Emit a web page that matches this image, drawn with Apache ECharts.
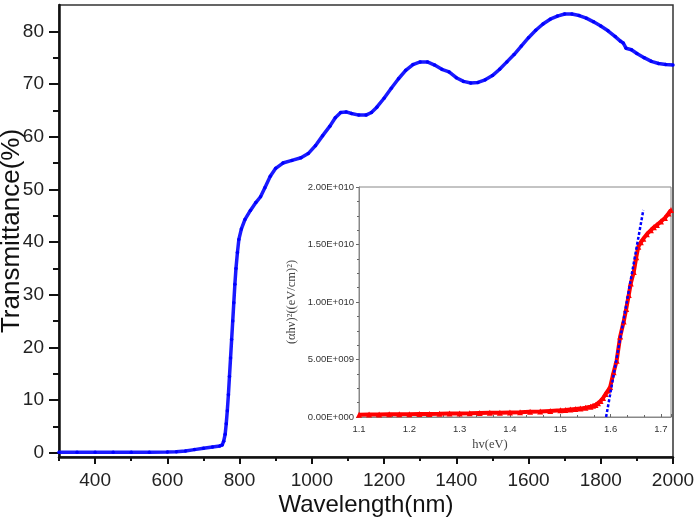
<!DOCTYPE html>
<html>
<head>
<meta charset="utf-8">
<script src="https://cdn.jsdelivr.net/npm/echarts@6/dist/echarts.min.js"></script>
<style>html,body{margin:0;padding:0;background:#fff}#c{width:700px;height:519px}</style>
</head>
<body>
<div id="c"></div>
<script>
// Main spectrum: wavelength (nm) vs transmittance (%)
const wavelength = [300,350,400,450,500,550,600,625,650,675,700,725,745,752,756,760,763,766,769,772,775,778,781,784,787,790,794,798,805,815,830,845,858,870,885,900,920,945,970,990,1010,1030,1050,1065,1080,1095,1110,1130,1150,1165,1180,1200,1220,1240,1260,1280,1300,1320,1340,1360,1380,1400,1420,1440,1460,1480,1500,1520,1540,1560,1580,1600,1620,1640,1660,1680,1700,1720,1740,1760,1780,1800,1820,1840,1855,1862,1870,1885,1900,1920,1940,1960,1980,2000];
const transmittance = [0.1,0.1,0.1,0.1,0.1,0.1,0.15,0.2,0.35,0.6,0.85,1.1,1.3,1.5,2.2,3.5,5.5,8,11,14.5,18,21.5,25,28.5,32,35,38,40.5,42.5,44.3,46,47.5,48.6,50.3,52.5,54,55,55.5,56,56.8,58.3,60.2,62,63.6,64.6,64.7,64.4,64.1,64.1,64.6,65.6,67.3,69.2,71,72.6,73.7,74.2,74.2,73.6,72.8,72.3,71.2,70.5,70.2,70.3,70.8,71.6,72.8,74.2,75.6,77.2,78.8,80.2,81.4,82.3,82.9,83.3,83.3,83,82.5,81.8,81,80.1,79,78.1,77.8,76.8,76.5,75.8,75,74.3,73.9,73.7,73.6];

// Inset (Tauc plot): photon energy (eV) vs (αhν)² in units of 1e10
const energy = [1.10,1.12,1.14,1.16,1.18,1.20,1.22,1.24,1.26,1.28,1.30,1.32,1.34,1.36,1.38,1.40,1.42,1.44,1.46,1.48,1.50,1.51,1.52,1.53,1.54,1.55,1.56,1.565,1.57,1.575,1.58,1.585,1.59,1.595,1.599,1.606,1.612,1.619,1.626,1.631,1.636,1.640,1.646,1.651,1.655,1.660,1.665,1.672,1.680,1.686,1.692,1.700,1.708,1.715,1.72];
const alphaHv2 = [0.020,0.021,0.022,0.023,0.024,0.025,0.026,0.027,0.028,0.030,0.031,0.032,0.034,0.036,0.038,0.040,0.042,0.045,0.048,0.053,0.058,0.061,0.065,0.069,0.073,0.080,0.090,0.097,0.105,0.12,0.14,0.165,0.20,0.23,0.26,0.39,0.49,0.70,0.83,0.94,1.06,1.16,1.26,1.39,1.48,1.52,1.55,1.59,1.625,1.65,1.67,1.70,1.73,1.77,1.80];
const fitEnergy = [1.591, 1.665];
const fitAlphaHv2 = [0, 1.80];
const unitScale = 1e10;

// Tick labels
const mainXTicks = [400,600,800,1000,1200,1400,1600,1800,2000];
const mainXMinor = [300,500,700,900,1100,1300,1500,1700,1900];
const mainYTicks = [0,10,20,30,40,50,60,70,80];
const mainYMinor = [5,15,25,35,45,55,65,75];

function sci(v){
  if (v === 0) return '0.00E+000';
  const e = Math.floor(Math.log10(v) + 1e-9);
  const m = v / Math.pow(10, e);
  return m.toFixed(2) + 'E+' + String(e).padStart(3, '0');
}

const chart = echarts.init(document.getElementById('c'));
const sans = 'Liberation Sans, Arial, sans-serif';
const serif = 'Liberation Serif, Times New Roman, serif';

chart.setOption({
  animation: false,
  backgroundColor: '#fff',
  grid: [
    {left: 59, right: 27, top: 5, bottom: 62, show: true, borderColor: '#333', borderWidth: 1.5, backgroundColor: 'transparent', containLabel: false, outerBoundsMode: 'none'},
    {left: 359, top: 187, width: 312, height: 230, show: true, borderColor: '#888', borderWidth: 1, backgroundColor: '#fff', containLabel: false, outerBoundsMode: 'none'}
  ],
  xAxis: [
    {gridIndex: 0, type: 'value', min: 300, max: 2000, position: 'bottom',
     axisLine: {show: true, onZero: false, lineStyle: {color: '#111', width: 2.5}},
     axisTick: {show: true, customValues: mainXTicks, length: 7, lineStyle: {color: '#111', width: 2}},
     axisLabel: {customValues: mainXTicks, color: '#222', fontSize: 19, fontFamily: sans, margin: 14, formatter: v => String(v)},
     splitLine: {show: false},
     name: 'Wavelength(nm)', nameLocation: 'middle', nameGap: 36, nameMoveOverlap: false,
     nameTextStyle: {fontSize: 24, color: '#111', fontFamily: sans}},
    {gridIndex: 0, type: 'value', min: 300, max: 2000, position: 'bottom', offset: 0,
     axisLine: {show: false, onZero: false}, axisLabel: {show: false}, splitLine: {show: false},
     axisTick: {show: true, customValues: mainXMinor, length: 4, lineStyle: {color: '#111', width: 2}}},
    {gridIndex: 1, type: 'value', min: 1.1, max: 1.72, interval: 0.1,
     axisLine: {show: true, onZero: false, lineStyle: {color: '#888', width: 1}},
     axisTick: {show: true, inside: true, length: 3, lineStyle: {color: '#666'}},
     minorTick: {show: true, splitNumber: 3, length: 2, lineStyle: {color: '#666'}},
     axisLabel: {color: '#333', fontSize: 9.5, fontFamily: sans, margin: 7, formatter: v => v.toFixed(1)},
     splitLine: {show: false},
     name: 'hv(eV)', nameLocation: 'middle', nameGap: 21, nameMoveOverlap: false,
     nameTextStyle: {fontSize: 12.5, color: '#444', fontFamily: serif, padding: [0, 50, 0, 0]}}
  ],
  yAxis: [
    {gridIndex: 0, type: 'value', min: -0.8, max: 85, position: 'left',
     axisLine: {show: true, onZero: false, lineStyle: {color: '#111', width: 2.5}},
     axisTick: {show: true, customValues: mainYTicks, length: 10, lineStyle: {color: '#111', width: 2}},
     axisLabel: {customValues: mainYTicks, color: '#222', fontSize: 19, fontFamily: sans, margin: 15},
     splitLine: {show: false},
     name: 'Transmittance(%)', nameLocation: 'middle', nameGap: 34, nameMoveOverlap: false,
     nameTextStyle: {fontSize: 26, color: '#111', fontFamily: sans}},
    {gridIndex: 0, type: 'value', min: -0.8, max: 85, position: 'left', offset: 0,
     axisLine: {show: false, onZero: false}, axisLabel: {show: false}, splitLine: {show: false},
     axisTick: {show: true, customValues: mainYMinor, length: 6, lineStyle: {color: '#111', width: 2}}},
    {gridIndex: 1, type: 'value', min: 0, max: 2e10, interval: 5e9,
     axisLine: {show: true, onZero: false, lineStyle: {color: '#888', width: 1}},
     axisTick: {show: true, length: 3, lineStyle: {color: '#666'}},
     minorTick: {show: true, splitNumber: 4, length: 2, lineStyle: {color: '#666'}},
     axisLabel: {color: '#333', fontSize: 9.5, fontFamily: sans, margin: 5, formatter: sci},
     splitLine: {show: false},
     name: '(αhν)²((eV/cm)²)', nameLocation: 'middle', nameGap: 61, nameMoveOverlap: false,
     nameTextStyle: {fontSize: 12.5, color: '#444', fontFamily: serif}}
  ],
  series: [
    {type: 'line', xAxisIndex: 0, yAxisIndex: 0,
     data: wavelength.map((w, i) => [w, transmittance[i]]),
     symbol: 'circle', symbolSize: 3.5, showSymbol: true,
     itemStyle: {color: '#0000ff'}, lineStyle: {color: '#1a1aff', width: 3.5}},
    {type: 'line', xAxisIndex: 2, yAxisIndex: 2,
     data: energy.map((e, i) => [e, alphaHv2[i] * unitScale]),
     symbol: 'triangle', symbolSize: 6, showSymbol: true,
     itemStyle: {color: '#ff0000'}, lineStyle: {color: '#ff0000', width: 4}},
    {type: 'line', xAxisIndex: 2, yAxisIndex: 2,
     data: fitEnergy.map((e, i) => [e, fitAlphaHv2[i] * unitScale]),
     symbol: 'none', z: 5,
     lineStyle: {color: '#0000ff', width: 2.5, type: [3, 2]}}
  ]
});
</script>
</body>
</html>
